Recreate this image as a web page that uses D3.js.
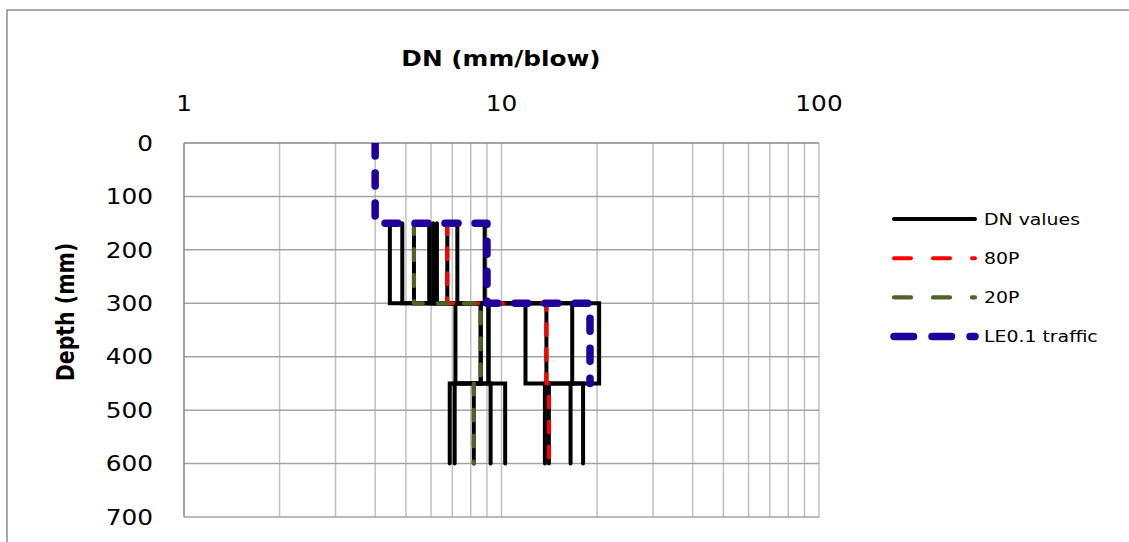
<!DOCTYPE html>
<html>
<head>
<meta charset="utf-8">
<script src="https://cdn.jsdelivr.net/npm/d3@7"></script>
<style>
  body { margin: 0; background: #fff; }
  svg { display: block; }
  text { font-family: "DejaVu Sans", sans-serif; fill: #000; }
</style>
</head>
<body>
<div id="chart"></div>
<script>
// layer boundaries (mm)
var layerTop = [150, 300, 450];
var layerBottom = [300, 450, 600];

// DN (mm/blow) of each test point, per layer
var dnLayer1 = [4.45, 4.87, 5.30, 5.92, 6.09, 6.26, 6.75, 7.26, 8.85];
var dnLayer2 = [7.16, 8.60, 20.3, 8.60, 9.10, 11.9, 9.10, 16.7, 13.85];
var dnLayer3 = [10.27, 7.12, 13.7, 8.18, 6.87, 18.07, 9.24, 16.5, 14.1];

// percentiles per layer
var p80 = [6.75, 13.85, 14.1];
var p20 = [5.30, 8.60, 8.18];

// layer strength for 0.1 million E80 traffic
var leTop = [0, 150, 300];
var leBottom = [150, 300, 450];
var le01 = [4, 9, 19];

var xTicks = [1, 10, 100];
var yTicks = [0, 100, 200, 300, 400, 500, 600, 700];
var legendNames = ["DN values", "80P", "20P", "LE0.1 traffic"];

var width = 1129, height = 542;
var sx = 1.18; // text in the original is drawn wide

var svg = d3.select("#chart").append("svg")
  .attr("width", width)
  .attr("height", height);

// chart border
svg.append("rect")
  .attr("x", 7).attr("y", 10)
  .attr("width", 1140).attr("height", 560)
  .attr("fill", "#fff")
  .attr("stroke", "#8c8c8c")
  .attr("stroke-width", 1.5);

var x = d3.scaleLog().domain([1, 100]).range([184, 819]);
var y = d3.scaleLinear().domain([0, 700]).range([143, 517]);

function label(px, py, str, size, anchor, bold, rot) {
  var t = svg.append("g")
    .attr("transform", "translate(" + px + "," + py + ") scale(" + sx + ",1)" + (rot ? " rotate(-90)" : ""))
    .append("text")
    .attr("text-anchor", anchor)
    .style("font-size", size + "px")
    .text(str);
  if (bold) t.style("font-weight", "bold");
  return t;
}

// gridlines
var minor = [];
[1, 10].forEach(function(dec) {
  for (var k = 2; k <= 10; k++) minor.push(dec * k);
});

svg.append("g").selectAll("line")
  .data(minor)
  .enter().append("line")
  .attr("x1", d => x(d)).attr("x2", d => x(d))
  .attr("y1", y(0)).attr("y2", y(700))
  .attr("stroke", "#c0c0c0")
  .attr("stroke-width", 1.5);

svg.append("g").selectAll("line")
  .data(yTicks.slice(1))
  .enter().append("line")
  .attr("x1", x(1)).attr("x2", x(100))
  .attr("y1", d => y(d)).attr("y2", d => y(d))
  .attr("stroke", "#a3a3a3")
  .attr("stroke-width", 1.5);

// axis lines
svg.append("line")
  .attr("x1", x(1)).attr("x2", x(100))
  .attr("y1", y(0)).attr("y2", y(0))
  .attr("stroke", "#868686").attr("stroke-width", 1.5);
svg.append("line")
  .attr("x1", x(1)).attr("x2", x(1))
  .attr("y1", y(0)).attr("y2", y(700))
  .attr("stroke", "#868686").attr("stroke-width", 1.5);

// tick labels
xTicks.forEach(function(t) {
  label(x(t), 111, t, 21, "middle");
});
yTicks.forEach(function(t) {
  label(153, y(t) + 7.7, t, 21, "end");
});

// axis titles
label(501, 66, "DN (mm/blow)", 21, "middle", true);
label(74, 312, "Depth (mm)", 20.5, "middle", true, true);

// clip to the plot area
svg.append("clipPath").attr("id", "plotClip")
  .append("rect")
  .attr("x", x(1)).attr("y", y(0))
  .attr("width", x(100) - x(1)).attr("height", y(700) - y(0));

var plot = svg.append("g").attr("clip-path", "url(#plotClip)");

var line = d3.line()
  .x(d => x(d[0]))
  .y(d => y(d[1]));

function steps(vals, tops, bottoms) {
  var pts = [];
  vals.forEach(function(v, i) {
    pts.push([v, tops[i]]);
    pts.push([v, bottoms[i]]);
  });
  return pts;
}

// DN values - one step profile per test point
var tests = d3.range(dnLayer1.length).map(function(i) {
  return steps([dnLayer1[i], dnLayer2[i], dnLayer3[i]], layerTop, layerBottom);
});

plot.append("g").selectAll("path")
  .data(tests)
  .enter().append("path")
  .attr("d", line)
  .attr("fill", "none")
  .attr("stroke", "#000")
  .attr("stroke-width", 4)
  .attr("stroke-linejoin", "miter")
  .attr("stroke-linecap", "round");

var styles = [
  { color: "#000", w: 4, dash: null, legDash: null },
  { color: "#ff0000", w: 4, dash: "11,14", legDash: "17,22" },
  { color: "#4f6228", w: 4.2, dash: "11,15", legDash: "17,22" },
  { color: "#1f009c", w: 7.5, dash: "13,17", legDash: "19.5,18.5" }
];

var series = [
  null,
  steps(p80, layerTop, layerBottom),
  steps(p20, layerTop, layerBottom),
  steps(le01, leTop, leBottom)
];

series.forEach(function(s, i) {
  if (!s) return;
  plot.append("path")
    .datum(s)
    .attr("d", line)
    .attr("fill", "none")
    .attr("stroke", styles[i].color)
    .attr("stroke-width", styles[i].w)
    .attr("stroke-dasharray", styles[i].dash)
    .attr("stroke-linecap", "round")
    .attr("stroke-linejoin", "round");
});

// legend
legendNames.forEach(function(name, i) {
  var ly = 219 + i * 39.2;
  svg.append("line")
    .attr("x1", 894).attr("x2", 975)
    .attr("y1", ly).attr("y2", ly)
    .attr("stroke", styles[i].color)
    .attr("stroke-width", styles[i].w)
    .attr("stroke-dasharray", styles[i].legDash)
    .attr("stroke-linecap", "round");
  label(984, ly + 5.8, name, 16, "start");
});
</script>
</body>
</html>
